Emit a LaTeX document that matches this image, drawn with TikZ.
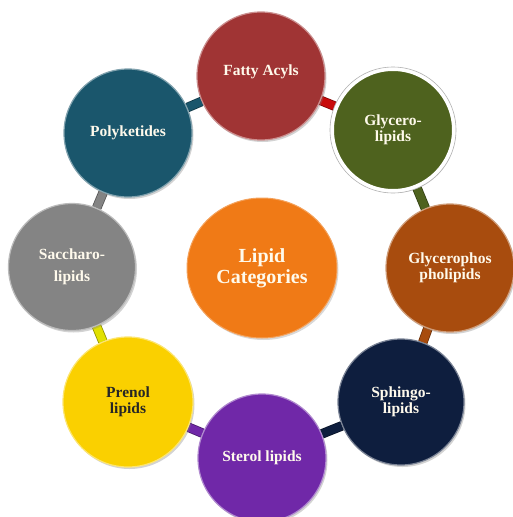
\documentclass[tikz,border=0pt]{standalone}
\usepackage{fontspec}
\setmainfont{Liberation Serif}
\usetikzlibrary{shadows,backgrounds,shapes.geometric}
\definecolor{cFA}{RGB}{160,52,52}
\definecolor{cGL}{RGB}{78,98,30}
\definecolor{cGP}{RGB}{168,76,14}
\definecolor{cSP}{RGB}{14,30,62}
\definecolor{cST}{RGB}{112,40,168}
\definecolor{cPR}{RGB}{250,208,0}
\definecolor{cSA}{RGB}{132,132,132}
\definecolor{cPK}{RGB}{26,86,108}
\definecolor{cLC}{RGB}{240,122,22}
\definecolor{cFAbar}{RGB}{200,10,10}
\definecolor{cPRbar}{RGB}{225,225,0}
\definecolor{txt}{RGB}{255,250,236}
\begin{document}
\begin{tikzpicture}[x=1pt,y=-1pt,
  cat/.style={circle, fill=#1, draw=#1!55!white, line width=1.2pt,
    minimum size=128pt, inner sep=0pt, align=center, text=txt,
    font=\bfseries\fontsize{15.5}{15.5}\selectfont,
    drop shadow={shadow xshift=1.5pt, shadow yshift=-2pt, opacity=0.35}},
  bar/.style={line width=0.8pt, draw=#1!65!black, double=#1, double distance=8pt}
]
\useasboundingbox (0,0) rectangle (513,517);

\node[ellipse, fill=cLC, draw=cLC!70!white, line width=1pt, minimum width=150pt, minimum height=140pt,
  inner sep=0pt, align=center, text=txt, font=\bfseries\fontsize{20}{21}\selectfont,
  drop shadow={shadow xshift=1.5pt, shadow yshift=-2pt, opacity=0.3}]
  (lc) at (262,268) {Lipid\\Categories};

\node[cat=cFA] (fa) at (261,76) {Fatty Acyls\\[-4pt]};
\node[cat=cGL, draw=white, line width=4pt, minimum size=122pt] (gl) at (393,130) {Glycero-\\lipids};
\draw[gray!60, line width=0.6pt] (gl.center) circle (63);
\node[cat=cGP] (gp) at (450,268) {Glycerophos\\pholipids};
\node[cat=cSP, minimum size=126pt] (sp) at (401,402) {Sphingo-\\lipids};
\node[cat=cST] (st) at (262,458) {Sterol lipids};
\node[cat=cPR, text=black!85, minimum size=130pt] (pr) at (128,402) {Prenol\\lipids};
\node[cat=cSA, minimum size=127pt] (sa) at (72,267) {Saccharo-\\[6pt]lipids};
\node[cat=cPK] (pk) at (128,133) {Polyketides};

\begin{scope}[on background layer]
\draw[bar=cPK] (pk) -- (fa);
\draw[bar=cFAbar] (fa) -- (gl);
\draw[bar=cGL] (gl) -- (gp);
\draw[bar=cGP] (gp) -- (sp);
\draw[bar=cSP] (sp) -- (st);
\draw[bar=cST] (st) -- (pr);
\draw[bar=cPRbar] (pr) -- (sa);
\draw[bar=cSA] (sa) -- (pk);
\end{scope}
\end{tikzpicture}
\end{document}
